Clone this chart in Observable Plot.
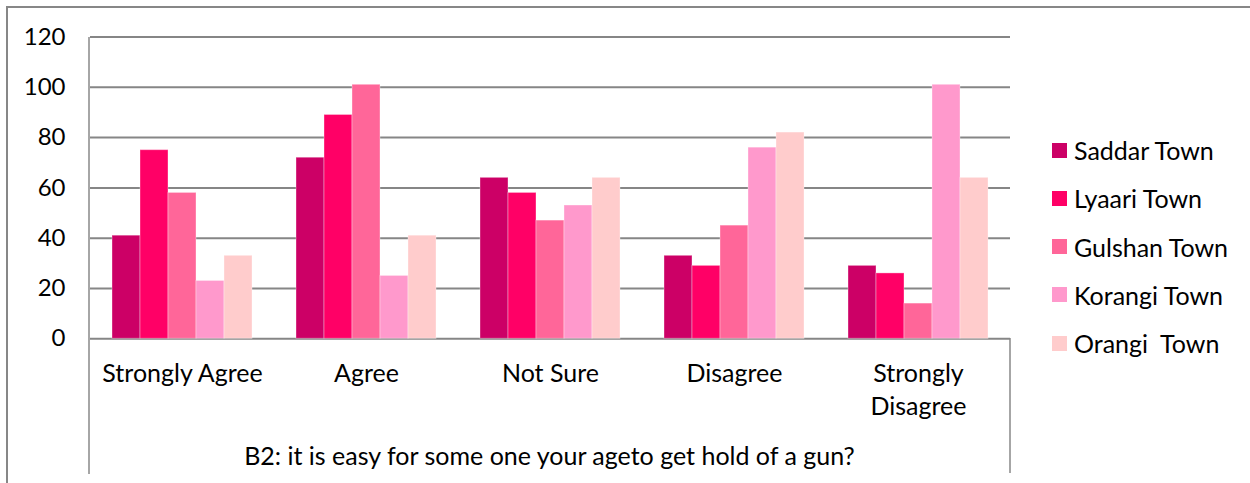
<!DOCTYPE html>
<html>
<head>
<meta charset="utf-8">
<script src="https://cdn.jsdelivr.net/npm/d3@7"></script>
<script src="https://cdn.jsdelivr.net/npm/@observablehq/plot@0.6"></script>
<style>
  html, body { margin: 0; padding: 0; background: #fff; }
  body { width: 1250px; height: 483px; position: relative; overflow: hidden; font-family: Lato, "Noto Sans", sans-serif; }
  #frame { position: absolute; left: 6px; top: 6px; width: 1250px; height: 500px; border-left: 2px solid #878787; border-top: 2px solid #878787; }
  .vline { position: absolute; width: 0; border-left: 2px solid #a6a6a6; }
  #chart { position: absolute; left: 0; top: 0; }
  #title { position: absolute; left: 89px; width: 921px; text-align: center; top: 442.8px; font-size: 25px; line-height: 25px; color: #000; font-family: Lato, sans-serif; white-space: pre; }
  #legend { position: absolute; left: 1052px; top: 125.9px; }
  .row { display: flex; align-items: center; height: 48.3px; }
  .sw { width: 15px; height: 15px; margin-right: 7px; }
  .lb { font-size: 25px; line-height: 28px; white-space: pre; color: #000; font-family: Lato, sans-serif; }
</style>
</head>
<body>
<div id="frame"></div>
<div class="vline" style="left:88px; top:36.5px; height:437px;"></div>
<div class="vline" style="left:1009px; top:338px; height:135px;"></div>
<div id="chart"></div>
<div id="title"></div>
<div id="legend"></div>
<script>
const categories = ["Strongly Agree", "Agree", "Not Sure", "Disagree", "Strongly Disagree"];
const series = ["Saddar Town", "Lyaari Town", "Gulshan Town", "Korangi Town", "Orangi  Town"];
const saddar  = [41, 72, 64, 33, 29];
const lyaari  = [75, 89, 58, 29, 26];
const gulshan = [58, 101, 47, 45, 14];
const korangi = [23, 25, 53, 76, 101];
const orangi  = [33, 41, 64, 82, 64];
const colors = ["#CC0066", "#FF0066", "#FF6699", "#FF99CC", "#FFCCCC"];
const yTicks = [0, 20, 40, 60, 80, 100, 120];
const categoryLabels = ["Strongly Agree", "Agree", "Not Sure", "Disagree", "Strongly\nDisagree"];
const title = "B2: it is easy for some one your ageto get hold of a gun?";

const values = [saddar, lyaari, gulshan, korangi, orangi];
const data = [];
series.forEach((s, i) => categories.forEach((c, j) => data.push({category: c, series: s, value: values[i][j]})));

const plot = Plot.plot({
  width: 1250,
  height: 483,
  marginLeft: 89,
  marginRight: 240,
  marginTop: 36.5,
  marginBottom: 144.7,
  style: {fontFamily: "Lato, sans-serif", fontSize: "24px", color: "#000", background: "transparent", overflow: "visible"},
  fx: {domain: categories, padding: 0, label: null},
  x: {domain: series, paddingInner: 0, paddingOuter: 0.764, axis: null},
  y: {domain: [0, 120], label: null},
  color: {domain: series, range: colors},
  marks: [
    Plot.gridY(yTicks, {stroke: "#868686", strokeOpacity: 1, strokeWidth: 2}),
    Plot.barY(data, {fx: "category", x: "series", y: "value", fill: "series", stroke: "#fff", strokeOpacity: 0.35, strokeWidth: 1}),
    Plot.axisY(yTicks, {tickSize: 0, tickPadding: 25, label: null, fill: "#000"}),
    Plot.axisFx({anchor: "bottom", tickSize: 0, tickPadding: 20, label: null, fontSize: 25, lineHeight: 1.32, fill: "#000",
      tickFormat: d => categoryLabels[categories.indexOf(d)]})
  ]
});
document.getElementById("chart").appendChild(plot);
document.getElementById("title").textContent = title;

const color = plot.scale("color");
const legend = document.getElementById("legend");
series.forEach((s, i) => {
  const row = document.createElement("div");
  row.className = "row";
  const sw = document.createElement("div");
  sw.className = "sw";
  sw.style.background = color.range[i];
  const lb = document.createElement("span");
  lb.className = "lb";
  lb.textContent = s;
  row.appendChild(sw);
  row.appendChild(lb);
  legend.appendChild(row);
});
</script>
</body>
</html>
